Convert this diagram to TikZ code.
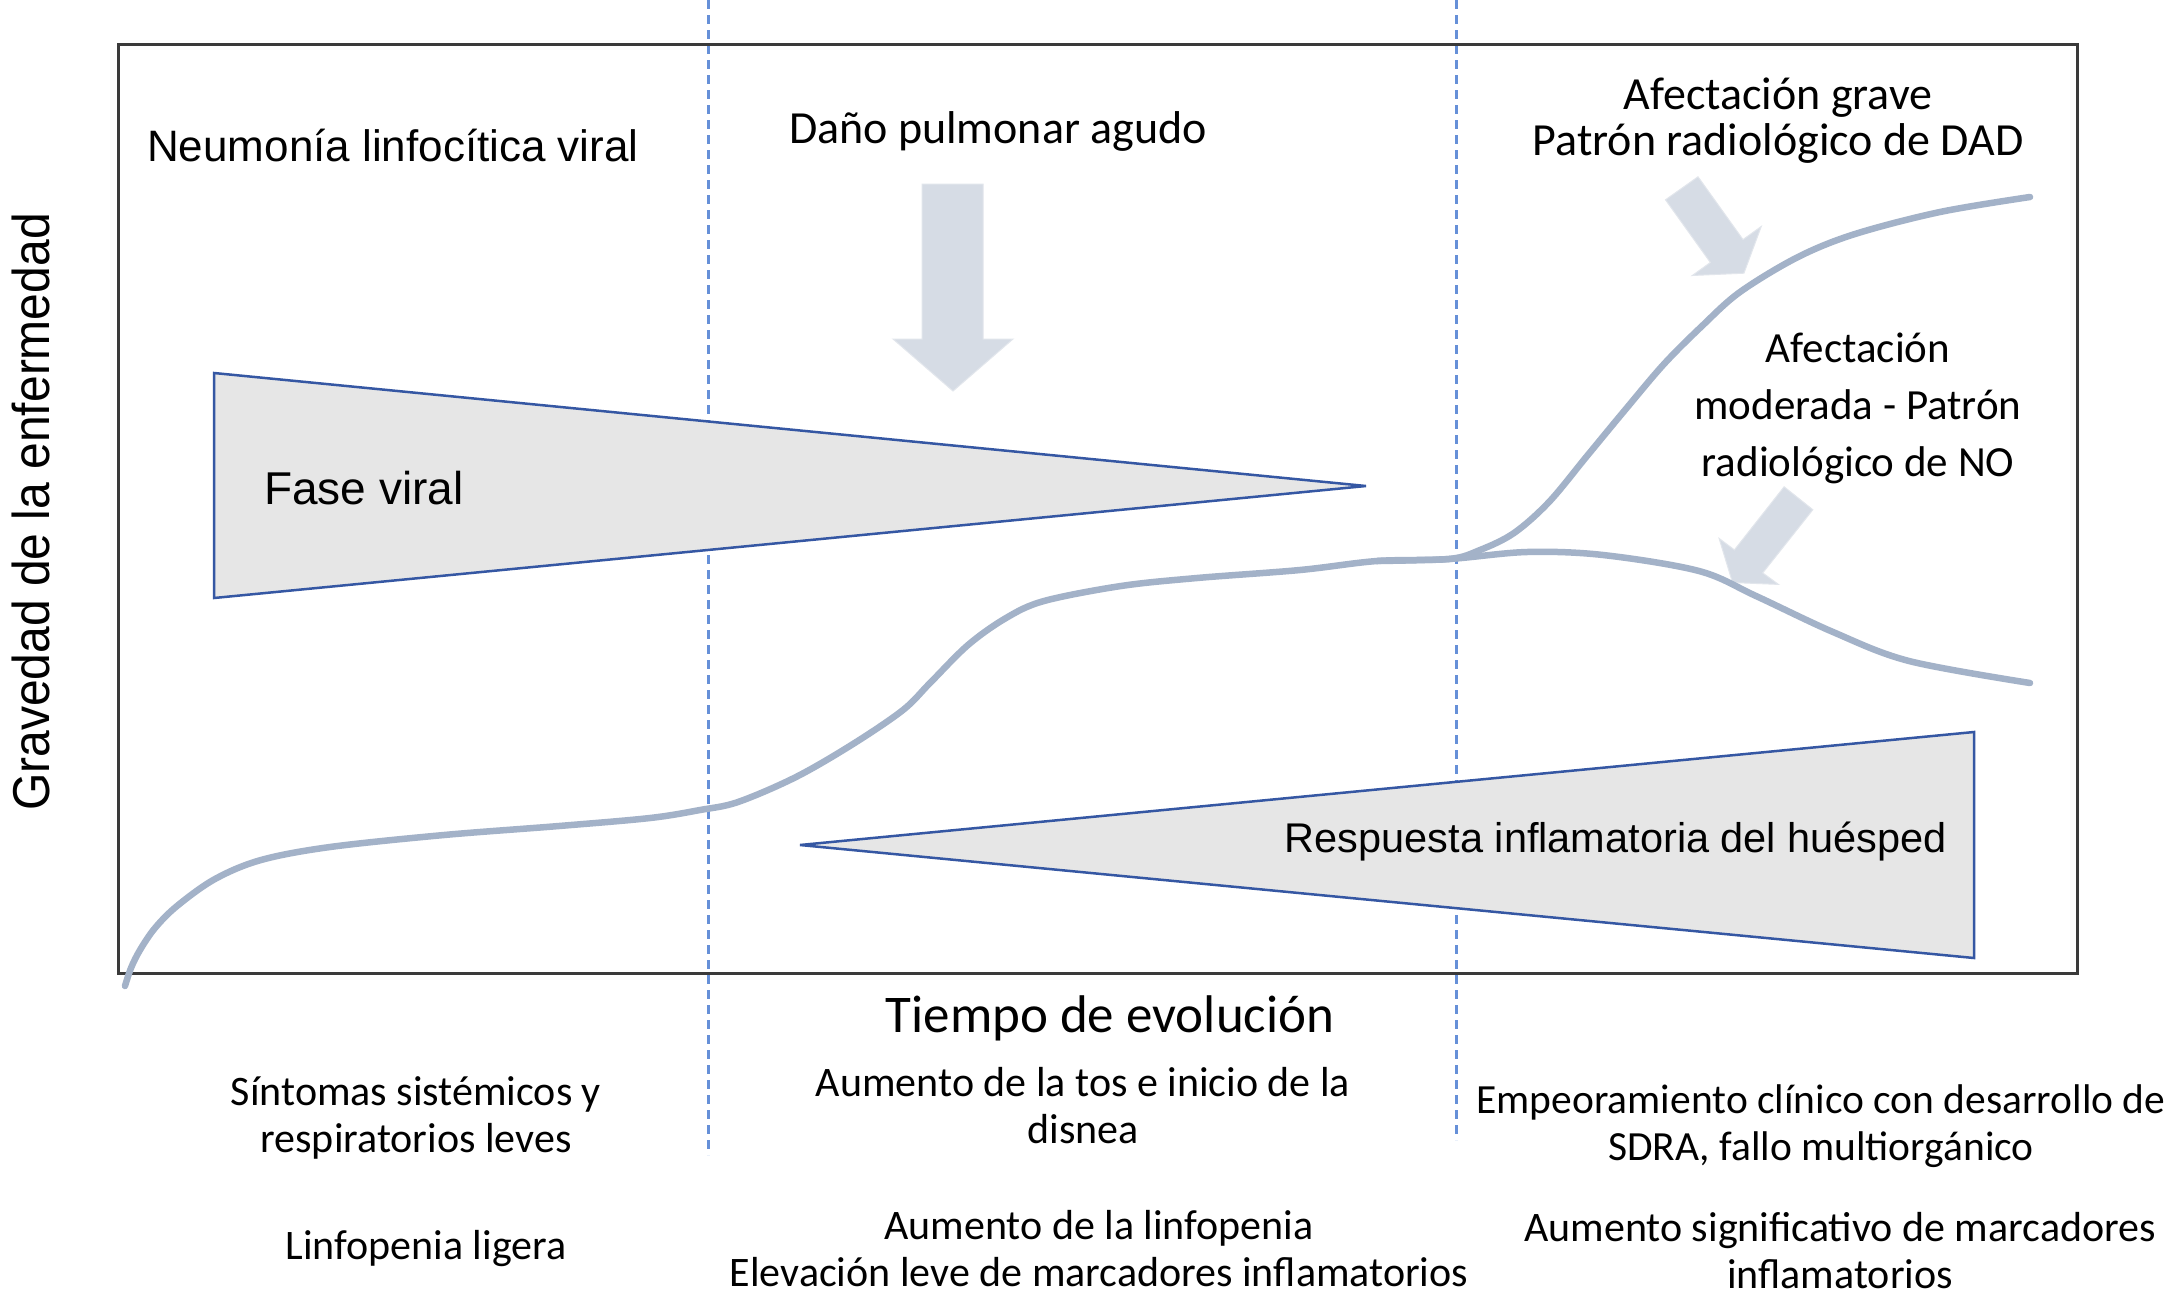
\documentclass[tikz,border=0pt]{standalone}
\usepackage{fontspec}
\setmainfont{Carlito}
\newfontfamily\arialf{Liberation Sans}
\definecolor{framegray}{HTML}{3A3A3A}
\definecolor{trifill}{HTML}{E6E6E6}
\definecolor{triblue}{HTML}{3557A3}
\definecolor{arrowfill}{HTML}{D6DCE5}
\definecolor{arrowedge}{HTML}{E2E6EC}
\definecolor{curveblue}{HTML}{A3B2C8}
\definecolor{dashblue}{HTML}{6690D8}
\tikzset{
  frameline/.style={draw=framegray, line width=3pt},
  phasebox/.style={fill=trifill, draw=triblue, line width=2.5pt, line join=miter},
  blockarrow/.style={fill=arrowfill, draw=arrowedge, line width=1pt},
  curveline/.style={draw=curveblue, line width=6.5pt, line cap=round},
  divider/.style={draw=dashblue, line width=3pt, dash pattern=on 9pt off 6pt},
  ariallbl/.style={font=\arialf\fontsize{44}{50}\selectfont, inner sep=0pt},
  callbl/.style={font=\fontsize{42}{47}\selectfont, inner sep=0pt, align=center},
  bigcallbl/.style={font=\fontsize{46}{46}\selectfont, inner sep=0pt, align=center},
}
\begin{document}
\begin{tikzpicture}[x=1pt, y=-1pt]
\useasboundingbox (0,0) rectangle (2175,1301);
\fill[white] (0,0) rectangle (2175,1301);

% dividers (behind the phase shapes)
\coordinate (d1top) at (708,0);
\coordinate (d1bot) at (708,1155);
\coordinate (d2top) at (1456,0);
\coordinate (d2bot) at (1456,1140);
\draw[divider] (d1top) -- (d1bot);
\draw[divider] (d2top) -- (d2bot);

% phase triangles
\draw[phasebox] (214,373) -- (1366,486) -- (214,598) -- cycle;
\draw[phasebox] (800,845) -- (1974,732) -- (1974,958) -- cycle;

% frame
\draw[frameline] (118,44) rectangle (2077,973);

% block arrows
\draw[blockarrow] (922,184) -- (983,184) -- (983,339) -- (1013,339) -- (953,391) -- (893,339) -- (922,339) -- cycle;
\draw[blockarrow] (1665.5,199.8) -- (1698.0,176.8) -- (1743.0,239.6) -- (1761.2,226.5) -- (1743.9,273.2) -- (1692.3,275.5) -- (1710.4,262.5) -- cycle;
\draw[blockarrow] (1812.8,509.7) -- (1784.1,486.8) -- (1734.4,549.9) -- (1719.1,538.4) -- (1732.5,582.5) -- (1778.4,584.4) -- (1762.7,572.9) -- cycle;

% severity curves
\draw[curveline] plot[smooth, tension=0.55] coordinates {
 (125,986) (131,968) (140,950) (155,928) (177,906) (215,879) (261,860) (330,847)
 (444,835) (559,826) (650,818) (700,810) (738,802) (796,777) (853,744) (903,710)
 (930,683) (968,645) (1006,618) (1044,601) (1121,586) (1197,578) (1300,570)
 (1377,561) (1449,559) (1480,550) (1514,533) (1549,502) (1587,456) (1625,410)
 (1664,364) (1702,326) (1740,292) (1798,257) (1855,234) (1940,212) (2030,197)};
\draw[curveline] plot[smooth, tension=0.55] coordinates {
 (1377,561) (1449,559) (1527,552) (1603,555) (1699,571) (1756,596) (1833,632)
 (1909,661) (2030,683)};

% labels inside the plot
\node[ariallbl, anchor=base west] (neumonia) at (147,161) {Neumonía linfocítica viral};
\node[ariallbl, font=\arialf\fontsize{46}{50}\selectfont, anchor=base west] (fase) at (264,504) {Fase viral};
\node[ariallbl, font=\arialf\fontsize{41.5}{50}\selectfont, anchor=base] (respuesta) at (1616,852) {Respuesta inflamatoria del huésped};
\node[bigcallbl, anchor=base] (dano) at (998,143) {Daño pulmonar agudo};
\node[bigcallbl, anchor=base] (grave) at (1778,155) {Afectación grave\\Patrón radiológico de DAD};
\node[callbl, font=\fontsize{43}{57}\selectfont, anchor=base] (moderada) at (1858,476) {Afectación\\moderada - Patrón\\radiológico de NO};

% axis labels
\node[inner sep=0pt, rotate=90, font=\arialf\fontsize{48}{50}\selectfont] (ylabel) at (31,512) {\scalebox{1}[1.08]{Gravedad de la enfermedad}};
\node[inner sep=0pt, anchor=base, font=\fontsize{53}{60}\selectfont] (xlabel) at (1110,1032) {Tiempo de evolución};

% bottom descriptions
\node[callbl, anchor=base] (sint) at (416,1152) {Síntomas sistémicos y\\respiratorios leves};
\node[callbl, anchor=base] (linf) at (426,1259) {Linfopenia ligera};
\node[callbl, anchor=base] (tos) at (1083,1143) {Aumento de la tos e inicio de la\\disnea};
\node[callbl, anchor=base] (elev) at (1099,1286) {Aumento de la linfopenia\\Elevación leve de marcadores inflamatorios};
\node[callbl, font=\fontsize{41.5}{47}\selectfont, anchor=base] (empeora) at (1821,1160) {Empeoramiento clínico con desarrollo de\\SDRA, fallo multiorgánico};
\node[callbl, anchor=base] (signif) at (1840,1288) {Aumento significativo de marcadores\\inflamatorios};
\end{tikzpicture}
\end{document}
